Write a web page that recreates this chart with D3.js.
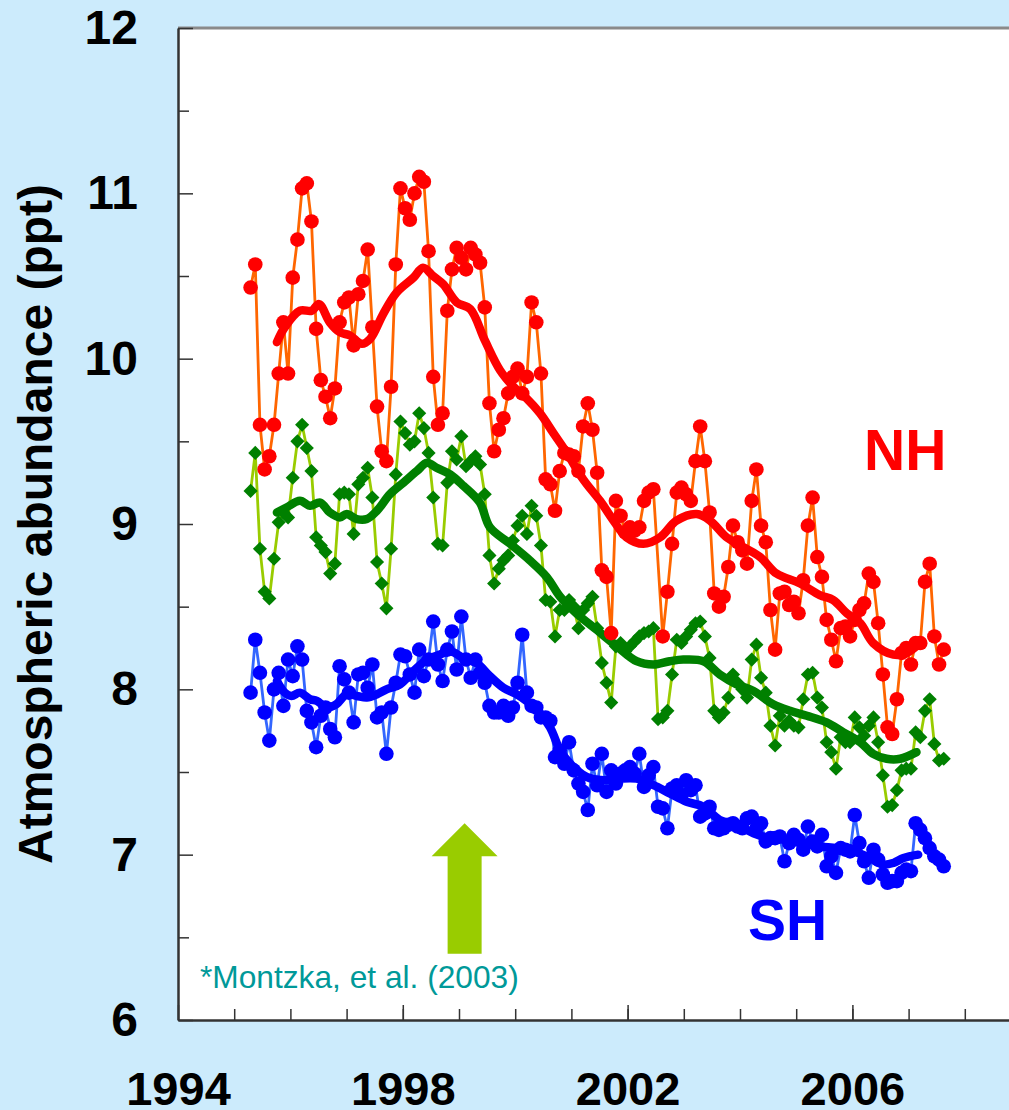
<!DOCTYPE html>
<html lang="en">
<head>
<meta charset="UTF-8">
<title>Atmospheric abundance</title>
<script src="https://d3js.org/d3.v7.min.js"></script>
<style>
  body { margin: 0; background: #ccebfc; }
  text { font-family: Arial, 'Liberation Sans', sans-serif; }
</style>
</head>
<body>
<script>

    // monthly values, first month = April 1995
    const firstMonth = 1995 + 3.5 / 12;

    const nhValues = [
        10.43,10.57,9.60,9.33,9.41,9.60,9.91,10.22,9.91,10.49,
        10.72,11.03,11.06,10.83,10.18,9.87,9.77,9.64,9.82,10.22,
        10.34,10.37,10.08,10.39,10.47,10.66,10.19,9.71,9.44,9.38,
        9.83,10.57,11.03,10.91,10.84,11.00,11.10,11.07,10.65,9.89,
        9.60,9.67,10.29,10.54,10.67,10.61,10.54,10.67,10.63,10.58,
        10.31,9.73,9.44,9.57,9.64,9.79,9.89,9.94,9.79,9.89,
        10.34,10.22,9.91,9.27,9.24,9.08,9.32,9.43,9.42,9.41,
        9.32,9.59,9.73,9.57,9.31,8.72,8.68,8.34,9.14,9.05,
        8.95,8.98,8.96,8.98,9.14,9.19,9.21,null,8.32,8.59,
        8.88,9.19,9.22,9.18,9.14,9.38,9.59,9.38,9.07,8.58,
        8.50,8.56,8.74,8.99,8.89,8.84,8.76,9.14,9.33,8.99,
        8.89,8.48,8.24,8.58,8.59,8.51,8.53,8.46,8.66,8.99,
        9.16,8.80,8.68,8.42,8.30,8.17,8.37,8.38,8.32,8.42,
        8.48,8.52,8.70,8.65,8.40,8.09,7.77,7.73,7.94,8.22,
        8.25,8.15,8.28,8.28,8.65,8.76,8.32,8.15,8.24
    ];

    const globalValues = [
        9.20,9.43,8.85,8.59,8.55,8.79,9.01,9.07,9.04,9.28,
        9.50,9.60,9.46,9.32,8.92,8.87,8.83,8.70,8.76,9.18,
        9.19,9.18,8.94,9.24,9.28,9.34,9.16,8.77,8.64,8.49,
        8.85,9.30,9.62,9.55,9.48,9.50,9.67,9.58,9.43,9.16,
        8.88,8.87,9.25,9.44,9.39,9.53,9.35,9.38,9.41,9.36,
        9.18,8.81,8.64,8.73,8.78,8.81,8.90,8.99,9.05,8.94,
        9.11,9.05,8.87,8.54,8.53,8.32,8.48,8.48,8.54,8.50,
        8.37,8.48,8.52,8.56,8.37,8.16,8.04,7.92,8.26,8.28,
        8.23,8.26,8.29,8.32,8.34,8.35,8.37,7.82,7.83,7.87,
        8.09,8.30,8.28,8.32,8.36,8.40,8.41,8.32,8.19,7.87,
        7.83,7.86,7.95,8.09,8.04,8.00,7.95,8.18,8.27,8.07,
        7.98,7.78,7.66,7.84,7.78,7.81,7.78,7.77,7.94,8.09,
        8.10,7.95,7.89,7.68,7.62,7.52,7.71,7.68,7.68,7.83,
        7.77,7.72,7.78,7.83,7.68,7.48,7.29,7.30,7.39,7.51,
        7.52,7.52,7.74,7.71,7.87,7.94,7.67,7.57,7.58
    ];

    const shValues = [
        7.98,8.30,8.10,7.86,7.69,8.00,8.10,7.90,8.18,8.08,
        8.26,8.18,7.87,7.80,7.65,7.84,7.89,7.76,7.71,8.14,
        8.06,7.98,7.80,8.09,8.10,8.01,8.15,7.83,7.86,7.61,
        7.89,8.04,8.21,8.20,8.09,7.98,8.24,8.08,8.18,8.41,
        8.15,8.05,8.24,8.35,8.12,8.44,8.18,8.07,8.18,8.10,
        8.04,7.90,7.86,7.86,7.90,7.84,7.89,8.04,8.33,7.98,
        7.90,7.89,7.83,7.83,7.81,7.59,7.63,7.55,7.68,7.51,
        7.43,7.38,7.27,7.55,7.42,7.61,7.38,7.51,7.43,7.49,
        7.51,7.53,7.49,7.61,7.41,7.48,7.53,7.29,7.28,7.16,
        7.40,7.42,7.36,7.45,7.39,7.42,7.23,7.25,7.29,7.16,
        7.15,7.16,7.18,7.19,7.17,7.16,7.22,7.23,7.16,7.19,
        7.08,7.10,7.10,7.11,6.96,7.07,7.12,7.09,7.03,7.17,
        7.08,7.05,7.12,6.93,6.99,6.89,7.04,7.03,7.02,7.24,
        7.07,6.96,6.86,7.03,6.97,6.88,6.83,6.84,6.84,6.89,
        6.91,6.90,7.19,7.15,7.10,7.04,6.99,6.97,6.93
    ];

    // running means [year, ppt]
    const nhTrend = [[1995.76,10.10],[1995.90,10.19],[1996.17,10.29],[1996.38,10.29],[1996.51,10.33],[1996.70,10.22],[1996.88,10.16],[1997.06,10.14],[1997.27,10.09],[1997.42,10.12],[1997.65,10.27],[1997.89,10.40],[1998.19,10.49],[1998.36,10.55],[1998.54,10.50],[1998.72,10.45],[1998.96,10.34],[1999.20,10.30],[1999.46,10.11],[1999.73,9.93],[1999.97,9.83],[2000.20,9.76],[2000.44,9.67],[2000.68,9.55],[2000.92,9.43],[2001.21,9.27],[2001.51,9.14],[2001.75,9.02],[2001.98,8.92],[2002.28,8.88],[2002.58,8.92],[2002.87,9.02],[2003.23,9.06],[2003.47,9.02],[2003.76,8.92],[2004.06,8.86],[2004.36,8.80],[2004.65,8.70],[2005.07,8.64],[2005.42,8.57],[2005.66,8.54],[2005.90,8.46],[2006.14,8.40],[2006.37,8.28],[2006.73,8.21],[2006.97,8.22],[2007.20,8.28]];

    const globalTrend = [[1995.76,9.07],[1995.93,9.10],[1996.17,9.14],[1996.35,9.11],[1996.53,9.13],[1996.70,9.07],[1996.88,9.04],[1997.00,9.06],[1997.18,9.03],[1997.36,9.03],[1997.54,9.08],[1997.77,9.18],[1998.01,9.25],[1998.25,9.32],[1998.43,9.37],[1998.60,9.34],[1998.84,9.30],[1999.08,9.23],[1999.37,9.13],[1999.55,8.98],[1999.91,8.88],[2000.26,8.78],[2000.56,8.68],[2000.80,8.56],[2001.09,8.46],[2001.45,8.36],[2001.81,8.26],[2002.16,8.17],[2002.46,8.15],[2002.75,8.17],[2002.99,8.18],[2003.35,8.17],[2003.64,8.09],[2003.94,8.03],[2004.24,7.99],[2004.59,7.91],[2004.89,7.87],[2005.19,7.84],[2005.54,7.80],[2005.84,7.74],[2006.14,7.68],[2006.37,7.61],[2006.61,7.58],[2006.85,7.58],[2007.14,7.62]];

    const shTrend = [[1995.76,8.05],[1995.90,7.98],[1996.02,7.96],[1996.17,7.98],[1996.35,7.94],[1996.47,7.93],[1996.65,7.89],[1996.82,7.91],[1997.00,7.97],[1997.18,7.96],[1997.36,7.95],[1997.54,7.97],[1997.71,8.00],[1997.95,8.03],[1998.19,8.11],[1998.43,8.18],[1998.66,8.21],[1998.84,8.23],[1999.08,8.19],[1999.31,8.16],[1999.55,8.08],[1999.79,8.01],[2000.03,7.97],[2000.20,7.93],[2000.38,7.88],[2000.62,7.77],[2000.80,7.63],[2000.98,7.55],[2001.27,7.47],[2001.57,7.45],[2001.86,7.46],[2002.16,7.46],[2002.46,7.42],[2002.75,7.37],[2003.05,7.32],[2003.35,7.29],[2003.64,7.21],[2003.94,7.18],[2004.24,7.13],[2004.53,7.10],[2004.83,7.09],[2005.13,7.07],[2005.42,7.05],[2005.72,7.04],[2006.02,7.02],[2006.31,6.98],[2006.55,6.94],[2006.73,6.95],[2006.91,6.98],[2007.17,7.00]];

    const yTicks = [6, 7, 8, 9, 10, 11, 12];
    const yMinorTicks = [6.5, 7.5, 8.5, 9.5, 10.5, 11.5];
    const xLabelYears = [1994, 1998, 2002, 2006];
    const xMinorYears = d3.range(1995, 2009);

    // arrow marking the Montzka et al. (2003) reference year
    const arrowYear = 1999.1;
    const arrowFrom = 6.40;
    const arrowTo = 7.19;
    const arrowHeadBase = 6.99;

    const width = 1009;
    const height = 1110;

    const x = d3.scaleLinear().domain([1994, 2009]).range([178, 178 + 15 * 56.2]);
    const y = d3.scaleLinear().domain([6, 12]).range([1020, 28]);

    const svg = d3.select("body").append("svg").attr("width", width).attr("height", height);

    svg.append("rect").attr("width", width).attr("height", height).attr("fill", "#ccebfc");
    svg.append("rect")
        .attr("x", x(1994)).attr("y", y(12))
        .attr("width", width - x(1994) + 10).attr("height", y(6) - y(12))
        .attr("fill", "white");
    svg.append("line")
        .attr("x1", x(1994)).attr("x2", width + 5)
        .attr("y1", y(12)).attr("y2", y(12))
        .attr("stroke", "#8a8a8a").attr("stroke-width", 3);

    // y axis
    svg.append("g").attr("transform", `translate(${x(1994)},0)`)
        .call(d3.axisLeft(y).tickValues(yMinorTicks).tickSize(-11).tickFormat(""))
        .call(g => g.select(".domain").remove());
    const yAxis = svg.append("g").attr("transform", `translate(${x(1994)},0)`)
        .call(d3.axisLeft(y).tickValues(yTicks).tickSize(-15).tickPadding(40).tickSizeOuter(0).tickFormat(d3.format("d")));
    yAxis.selectAll("text").style("font-size", "48px").style("font-weight", "bold").attr("fill", "black");

    // x axis
    svg.append("g").attr("transform", `translate(0,${y(6)})`)
        .call(d3.axisBottom(x).tickValues(xMinorYears).tickSize(-11).tickFormat(""))
        .call(g => g.select(".domain").remove());
    const xAxis = svg.append("g").attr("transform", `translate(0,${y(6)})`)
        .call(d3.axisBottom(x).tickValues(xLabelYears).tickSize(-15).tickPadding(52).tickSizeOuter(0).tickFormat(d3.format("d")));
    xAxis.selectAll("text").style("font-size", "47px").style("font-weight", "bold").attr("fill", "black");

    svg.selectAll(".domain").attr("stroke", "#333").attr("stroke-width", 2.5);
    svg.selectAll(".tick line").attr("stroke", "#333").attr("stroke-width", 1.5);

    svg.append("text")
        .attr("transform", `translate(52,${(y(6) + y(12)) / 2}) rotate(-90)`)
        .attr("text-anchor", "middle")
        .style("font-size", "48px").style("font-weight", "bold")
        .text("Atmospheric abundance (ppt)");

    // series
    const toPoints = values => values
        .map((v, i) => v == null ? null : {t: firstMonth + i / 12, v: v})
        .filter(d => d);

    const line = d3.line().x(d => x(d.t)).y(d => y(d.v));
    const trendLine = d3.line().x(d => x(d[0])).y(d => y(d[1])).curve(d3.curveCatmullRom);

    const series = [
        {values: shValues, trend: shTrend, lineColor: "#3366ff", markColor: "#0000ff", trendColor: "#0000ff", shape: "circle"},
        {values: globalValues, trend: globalTrend, lineColor: "#99cc00", markColor: "#008000", trendColor: "#008000", shape: "diamond"},
        {values: nhValues, trend: nhTrend, lineColor: "#ff6600", markColor: "#ff0000", trendColor: "#ff0000", shape: "circle"}
    ];

    const diamond = d3.symbol().type(d3.symbolSquare).size(100);

    series.forEach(s => {
        const pts = toPoints(s.values);
        const g = svg.append("g");
        g.append("path").datum(pts)
            .attr("d", line)
            .attr("fill", "none")
            .attr("stroke", s.lineColor)
            .attr("stroke-width", 2.8);
        if (s.shape === "circle") {
            g.selectAll("circle").data(pts).enter().append("circle")
                .attr("cx", d => x(d.t)).attr("cy", d => y(d.v))
                .attr("r", 7.3).attr("fill", s.markColor);
        } else {
            g.selectAll("path.mark").data(pts).enter().append("path").attr("class", "mark")
                .attr("d", diamond)
                .attr("transform", d => `translate(${x(d.t)},${y(d.v)}) rotate(45)`)
                .attr("fill", s.markColor);
        }
        g.append("path").datum(s.trend)
            .attr("d", trendLine)
            .attr("fill", "none")
            .attr("stroke", s.trendColor)
            .attr("stroke-width", 8.5)
            .attr("stroke-linecap", "round")
            .attr("stroke-linejoin", "round");
    });

    // labels
    svg.append("text").attr("x", 864).attr("y", 470)
        .style("font-size", "57px").style("font-weight", "bold").attr("fill", "#ff0000")
        .text("NH");
    svg.append("text").attr("x", 748).attr("y", 940)
        .style("font-size", "57px").style("font-weight", "bold").attr("fill", "#0000ff")
        .text("SH");

    // arrow
    const ax = x(arrowYear);
    const arrowPts = [
        [ax - 17, y(arrowFrom)], [ax - 17, y(arrowHeadBase)], [ax - 33, y(arrowHeadBase)],
        [ax, y(arrowTo)],
        [ax + 33, y(arrowHeadBase)], [ax + 17, y(arrowHeadBase)], [ax + 17, y(arrowFrom)]
    ];
    svg.append("polygon").attr("points", arrowPts.map(p => p.join(",")).join(" ")).attr("fill", "#99cc00");

    svg.append("text").attr("x", 200).attr("y", 988)
        .style("font-size", "31.7px").attr("fill", "#009999")
        .text("*Montzka, et al. (2003)");

</script>
</body>
</html>
